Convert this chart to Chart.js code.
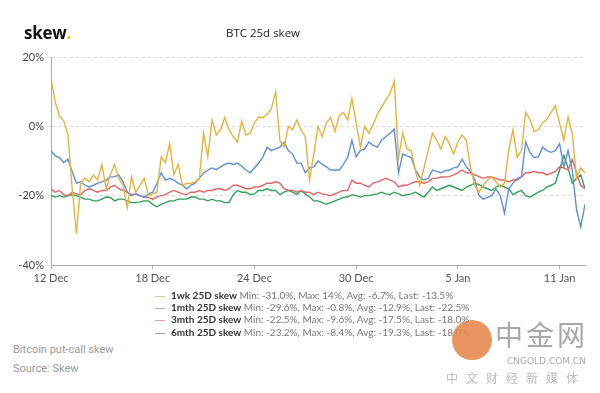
<!DOCTYPE html>
<html>
<head>
<meta charset="utf-8">
<script src="https://cdn.jsdelivr.net/npm/chart.js@4"></script>
<style>
  body { margin: 0; background: #fff; font-family: Lato, "Open Sans", sans-serif; }
  #wrap { position: relative; width: 600px; height: 393px; overflow: hidden; }
  #chartBox { position: absolute; left: 0; top: 0; width: 600px; height: 290px; }
  .logo { position: absolute; left: 24px; top: 21px; font: bold 17px "Open Sans", sans-serif; color: #111; letter-spacing: -0.3px; }
  .logo span { color: #f2c200; }
  .title { position: absolute; left: 0; width: 526px; top: 25px; text-align: center; font: 11.5px "Open Sans", sans-serif; color: #222; }
  #legend { position: absolute; left: 155px; top: 289px; font-size: 10px; line-height: 12.2px; color: #777; white-space: nowrap; }
  #legend .mk { display: inline-block; width: 10px; height: 0; border-top: 1.5px solid; vertical-align: middle; margin-right: 6px; }
  #legend b { color: #333; }
  .foot { position: absolute; left: 13px; font: 11px Roboto, sans-serif; color: #999; }
  .wm-circle { position: absolute; left: 452px; top: 320px; width: 40px; height: 40px; border-radius: 50%; background: #e58a52; opacity: 0.9; }
  .wm-big { position: absolute; left: 495px; top: 316px; font: 28px "Noto Sans CJK SC", sans-serif; color: #a8a8a8; letter-spacing: 3px; line-height: 36px; }
  .wm-url { position: absolute; left: 507px; top: 356px; font: 9px "DejaVu Sans", sans-serif; color: #aaa; letter-spacing: 0px; line-height: 11px; }
  .wm-cn { position: absolute; left: 446px; top: 370px; font: 12px "Noto Sans CJK SC", sans-serif; color: #bbb; letter-spacing: 8px; line-height: 16px; }
</style>
</head>
<body>
<div id="wrap">
  <div id="chartBox"><canvas id="skewChart" width="600" height="290"></canvas></div>
  <div class="logo">skew<span>.</span></div>
  <div class="title">BTC 25d skew</div>
  <div id="legend"></div>
  <div class="foot" style="top:343px">Bitcoin put-call skew</div>
  <div class="foot" style="top:362px">Source: Skew</div>
  <div class="wm-circle"></div>
  <div class="wm-big">中金网</div>
  <div class="wm-url">CNGOLD.COM.CN</div>
  <div class="wm-cn">中文财经新媒体</div>
</div>
<script>
// one sample every 6 hours, starting 12 Dec 00:00
const stepHours = 6;
const tickLabels = ['12 Dec', '18 Dec', '24 Dec', '30 Dec', '5 Jan', '11 Jan'];
const yTicks = [20, 0, -20, -40];

const skew1wk = [
  14, 7, 3, 1.5, -2.5, -18, -31, -16.4, -15, -16, -14, -15.5, -11, -18, -14, -11,
  -15, -17, -23.5, -14.6, -19, -17, -15, -20, -19.5, -19, -8.8, -10.5, -5, -14, -11, -17,
  -16.5, -16.4, -16, -15, -2, -8.8, 1.8, -2.5, -1, 2.5, -1, -3, -4.5, 1.5, -2.5, -2,
  1, 2.7, 2.5, 3.5, 5, 10, -4, -6, 0, -1, 1.8, -1, -3, -15.5, -8, 0, -3, 1,
  2.5, -1.5, 3, 4, 1.8, 8, 1, -6, 0, -2, 0.5, 3.5, 5.5, 7.6, 9.5, 13, -9, -2,
  -6.5, -7, -13, -17, -12, -7, -2, -4, -6.5, -3, -5, -8, -4.5, -2.5, -4, -12, -17, -19,
  -17, -15.5, -14.6, -16, -17.5, -16.4, -7, -1, -9, -7, 4, 2, -1.5, -1, 1, 2,
  4, 6, 1, -4, 2.7, -2, -15, -12, -13.5
];
const skew1mth = [
  -7, -8.5, -9, -10.5, -9.5, -13, -16.4, -16, -17, -17.5, -17, -16.4, -16, -15.5, -14.6, -14.5,
  -14, -16, -19, -20, -19.5, -20, -20.5, -19.5, -19, -16.4, -13.4, -15.5, -15, -15.5, -16.4, -17,
  -18, -17, -16.4, -15, -13.5, -12.6, -12, -12.5, -11.7, -11, -10.6, -11, -10.6, -11.5, -12.6, -13.4,
  -12, -10.6, -8.8, -6, -7, -6.5, -6, -4.5, -7, -8, -10.6, -10.6, -13.4, -12, -11.7, -10,
  -11, -11.7, -12.6, -12.6, -12.6, -11, -9, -4, -8.8, -7, -6.5, -4.5, -5.5, -6, -4, -3,
  -2, -0.8, -13.4, -8, -8.5, -9, -12.6, -14.6, -15.5, -15, -12.6, -13, -13.4, -12.8, -12.6, -12,
  -11.7, -9.5, -11.7, -13, -15.5, -20, -21, -20.5, -20, -18, -20, -25, -18, -16.4, -15, -14.6,
  -4.5, -7.5, -9, -8.8, -6, -7, -7.5, -7, -5, -11.7, -7, -12.6, -24, -29, -22.5
];
const skew3mth = [
  -18, -19, -18.5, -19.7, -20, -19, -19.5, -19.7, -18.5, -18, -18.5, -19, -18.5, -18.5, -17.5, -17,
  -18, -18.5, -19, -19.7, -19.5, -20, -20.4, -20.5, -21, -20.4, -20, -19.7, -19, -18.5, -19, -19.5,
  -19.7, -19, -19, -18.5, -19, -18.5, -18.5, -18, -18, -18.5, -18, -17, -17, -17.5, -18, -18,
  -17.5, -17.5, -17, -16.4, -16.4, -16, -16.4, -18, -18.5, -18.5, -19, -18.5, -19, -19, -19.7, -19,
  -19.5, -19.7, -20, -19.5, -19, -18.5, -18.5, -15.5, -16.4, -16.4, -17, -17.5, -16.4, -16, -15.5, -15,
  -15.5, -16, -17.5, -17, -17, -16.4, -16, -16, -16.4, -16, -15, -15, -14.6, -14.6, -14.5, -14,
  -13.4, -12.6, -13.4, -13.4, -14, -14.5, -15, -14.6, -14.6, -15, -15.5, -15.5, -16, -15.5, -15.5, -14.6,
  -13.4, -13.4, -13, -13.4, -13.4, -14, -13.5, -13, -11.7, -12, -12.6, -9.6, -13.5, -17, -18
];
const skew6mth = [
  -20, -20.4, -20, -20.4, -20, -19.7, -20, -20.4, -21, -21, -21.5, -21.5, -21, -20.4, -20.5, -21.5,
  -21, -21, -21.5, -22, -22, -21.8, -21.5, -21.5, -22.5, -23.2, -22.5, -22, -21.5, -21.5, -21, -21,
  -21, -20.4, -20.4, -21, -21, -21.5, -21, -21.5, -21.5, -22, -22, -19.7, -18.5, -19, -19, -19.7,
  -19.5, -18.5, -18.5, -18, -18.5, -18.5, -19.7, -19, -18.5, -19, -19.7, -18.5, -19.5, -20.4, -21.5, -21.5,
  -22, -22.5, -22, -21.5, -21, -20.5, -20.4, -19.7, -20, -20.4, -20, -20, -19.7, -19.5, -19, -19.5,
  -19.7, -19, -19.5, -20, -19.7, -19.5, -19, -19.7, -20.4, -19, -17.5, -18.5, -18, -17.5, -17, -17.5,
  -18, -18.5, -17.5, -17, -16.4, -16.8, -17.5, -18, -18.5, -17.5, -17, -17.5, -18, -19.7, -19, -18.5,
  -20, -20.4, -19.7, -19, -18.5, -17.5, -17, -16.4, -12.6, -8.4, -12, -16.4, -15, -14, -18
];

const seriesNames = ['1wk 25D skew', '1mth 25D skew', '3mth 25D skew', '6mth 25D skew'];
const seriesStats = [
  'Min: -31.0%, Max: 14%, Avg: -6.7%, Last: -13.5%',
  'Min: -29.6%, Max: -0.8%, Avg: -12.9%, Last: -22.5%',
  'Min: -22.5%, Max: -9.6%, Avg: -17.5%, Last: -18.0%',
  'Min: -23.2%, Max: -8.4%, Avg: -19.3%, Last: -18.0%'
];
const colors = ['#e9b23e', '#5f8fd6', '#e06464', '#33a05a'];
const legendColors = ['#d8c99a', '#9fb6cc', '#e3a0a0', '#8fb3a6'];

const allSeries = [skew1wk, skew1mth, skew3mth, skew6mth];
const toPoints = arr => arr.map((v, i) => ({ x: i * stepHours, y: v }));

const legend = document.getElementById('legend');
seriesNames.forEach((name, i) => {
  const row = document.createElement('div');
  row.innerHTML = `<span class="mk" style="border-color:${legendColors[i]}"></span><b>${name}</b> ${seriesStats[i]}`;
  legend.appendChild(row);
});

const ctx = document.getElementById('skewChart').getContext('2d');
new Chart(ctx, {
  type: 'line',
  data: {
    datasets: allSeries.map((arr, i) => ({
      label: seriesNames[i],
      data: toPoints(arr),
      borderColor: colors[i],
      borderWidth: 1.4,
      pointRadius: 0,
      tension: 0,
      fill: false
    }))
  },
  options: {
    responsive: false,
    animation: false,
    maintainAspectRatio: false,
    layout: { padding: { top: 57, right: 15, left: 0, bottom: 0 } },
    plugins: {
      legend: { display: false },
      tooltip: { enabled: false }
    },
    scales: {
      x: {
        type: 'linear',
        min: 0,
        max: (skew1wk.length - 1) * stepHours,
        afterBuildTicks: axis => {
          axis.ticks = tickLabels.map((_, i) => ({ value: i * 144 }));
        },
        afterFit: axis => { axis.height = 25; },
        ticks: {
          callback: (v) => tickLabels[v / 144],
          color: '#555',
          font: { family: 'Lato', size: 11 },
          padding: 3,
          maxRotation: 0,
          autoSkip: false
        },
        grid: { drawOnChartArea: false, drawTicks: true, tickLength: 4, color: '#aaa' },
        border: { color: '#aaa', width: 1 }
      },
      y: {
        min: -40,
        max: 20,
        afterBuildTicks: axis => {
          axis.ticks = yTicks.map(v => ({ value: v }));
        },
        afterFit: axis => { axis.width = 51; },
        ticks: {
          callback: v => v + '%',
          color: '#444',
          font: { family: 'Lato', size: 11 },
          padding: 3
        },
        grid: { color: '#dcdcdc', tickLength: 4, drawTicks: true },
        border: { color: '#aaa', width: 1, dash: [3, 3] }
      }
    }
  }
});
</script>
</body>
</html>
